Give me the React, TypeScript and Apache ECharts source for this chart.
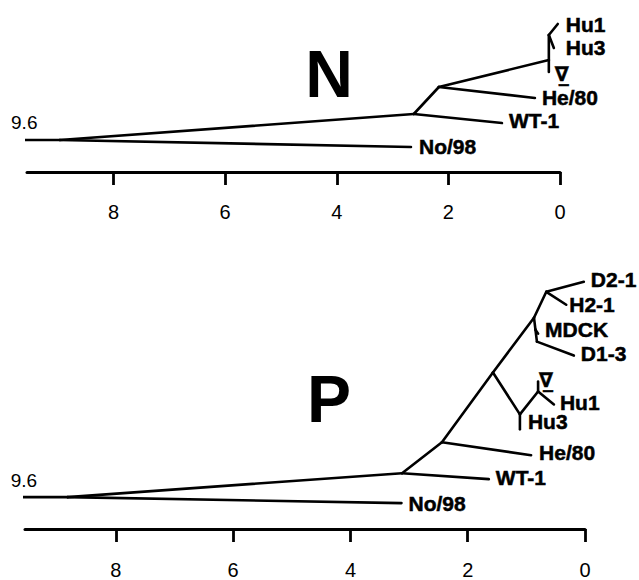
import React, { useEffect, useRef } from "react";
import * as echarts from "echarts";

// ---------- Panel N (tree 1) ----------
const nNodeNames = ["root0", "root", "A", "No/98", "WT-1", "B", "He/80", "C", "D", "Hu1", "Hu3", "V"];
const nDistance = [9.8, 8.96, 2.62, 2.67, 1.04, 2.17, 0.45, 0.2, 0.2, 0.04, 0.11, 0.2];
const nHeight = [32, 32, 58, 25, 49, 85, 74, 112, 137, 148, 124, 100];
const nEdges = [
  ["root0", "root"], ["root", "A"], ["root", "No/98"], ["A", "WT-1"], ["A", "B"],
  ["B", "He/80"], ["B", "C"], ["C", "D"], ["D", "Hu1"], ["D", "Hu3"], ["C", "V"],
];
const nLabels = [
  ["root0", "9.6"], ["Hu1", "Hu1"], ["Hu3", "Hu3"], ["V", "∇"],
  ["He/80", "He/80"], ["WT-1", "WT-1"], ["No/98", "No/98"],
];

// ---------- Panel P (tree 2) ----------
const pNodeNames = [
  "root0", "root", "A", "No/98", "WT-1", "B", "He/80", "C", "F", "Hu3", "G", "V", "Hu1",
  "D", "M", "MDCK", "H", "D1-3", "E", "D2-1", "H2-1",
];
const pDistance = [
  9.76, 8.82, 3.12, 3.13, 1.64, 2.44, 0.92, 1.57, 1.11, 1.11, 0.8, 0.8, 0.53,
  0.87, 0.845, 0.8, 0.82, 0.19, 0.66, 0.02, 0.32,
];
const pHeight = [
  32, 32, 56, 26, 50, 87, 74, 157, 115, 100, 138, 148, 125,
  212, 200, 196, 188, 174, 238, 248, 225,
];
const pEdges = [
  ["root0", "root"], ["root", "A"], ["root", "No/98"], ["A", "WT-1"], ["A", "B"],
  ["B", "He/80"], ["B", "C"], ["C", "F"], ["F", "Hu3"], ["F", "G"], ["G", "V"], ["G", "Hu1"],
  ["C", "D"], ["D", "M"], ["M", "MDCK"], ["M", "H"], ["H", "D1-3"], ["D", "E"],
  ["E", "D2-1"], ["E", "H2-1"],
];
const pLabels = [
  ["root0", "9.6"], ["D2-1", "D2-1"], ["H2-1", "H2-1"], ["MDCK", "MDCK"], ["D1-3", "D1-3"],
  ["V", "∇"], ["Hu1", "Hu1"], ["Hu3", "Hu3"], ["He/80", "He/80"], ["WT-1", "WT-1"], ["No/98", "No/98"],
];

const axisTicks = [0, 2, 4, 6, 8];
const panelTitles = ["N", "P"];

// ---------- styles (label offsets in px) ----------
const nOffsets: Record<string, number[]> = {
  "9.6": [-2, -18], Hu1: [8, 0], Hu3: [12, -1], "∇": [6, 2], "He/80": [7, -1], "WT-1": [7, -3], "No/98": [8, -1],
};
const pOffsets: Record<string, number[]> = {
  "9.6": [-2, -17], "D2-1": [7, -2], "H2-1": [3, 0], MDCK: [7, -4], "D1-3": [7, -2], "∇": [1, -1],
  Hu1: [6, -2], Hu3: [8, -8], "He/80": [8, -3], "WT-1": [7, -2], "No/98": [7, 0],
};

function buildPanel(
  names: string[], dist: number[], height: number[], edges: string[][],
  labels: string[][], offsets: Record<string, number[]>, gi: number
) {
  const pt = (n: string) => [dist[names.indexOf(n)], height[names.indexOf(n)]];
  const series: any[] = edges.map(([a, b]) => ({
    type: "line",
    xAxisIndex: gi,
    yAxisIndex: gi,
    data: [pt(a), pt(b)],
    symbol: "none",
    clip: false,
    silent: true,
    lineStyle: { color: "#000", width: 2.6, cap: "round", join: "round" },
  }));
  series.push({
    type: "scatter",
    xAxisIndex: gi,
    yAxisIndex: gi,
    symbolSize: 0.01,
    clip: false,
    silent: true,
    itemStyle: { color: "#000", opacity: 1 },
    data: labels.map(([node, text]) => {
      const isRoot = text === "9.6";
      const isV = text === "∇";
      return {
        value: pt(node),
        label: {
          show: true,
          position: "right",
          distance: 0,
          offset: offsets[text],
          formatter: isV ? "{v|∇\u0332}" : text,
          color: "#000",
          opacity: 1,
          fontFamily: "Liberation Sans",
          fontWeight: isRoot ? "normal" : "bold",
          fontSize: isRoot ? 19 : 21,
          textBorderColor: "#000",
          textBorderWidth: isRoot ? 0 : 0.5,
          rich: {
            v: {
              fontFamily: "DejaVu Sans",
              fontWeight: "bold",
              fontSize: 20,
              color: "#000",
              textBorderColor: "#000",
              textBorderWidth: 0.5,
            },
          },
        },
      };
    }),
  });
  return series;
}

function makeXAxis(gi: number) {
  return {
    type: "value",
    gridIndex: gi,
    min: 0,
    max: 9.55,
    inverse: true,
    axisLine: { show: true, onZero: false, lineStyle: { color: "#000", width: 3 } },
    axisTick: { show: true, customValues: axisTicks, length: 13, lineStyle: { color: "#000", width: 2.8 } },
    axisLabel: {
      customValues: axisTicks,
      margin: gi === 0 ? 30 : 31,
      color: "#000",
      fontFamily: "Liberation Sans",
      fontSize: 20,
    },
    splitLine: { show: false },
  };
}

export default function App() {
  const ref = useRef<HTMLDivElement>(null);
  useEffect(() => {
    if (!ref.current) return;
    const chart = echarts.init(ref.current, null, { renderer: "svg" });
    chart.setOption({
      animation: false,
      backgroundColor: "#fff",
      grid: [
        { left: 27, right: 79, top: 0, height: 172 },
        { left: 25, right: 54, top: 230, height: 300 },
      ],
      xAxis: [makeXAxis(0), makeXAxis(1)],
      yAxis: [
        { type: "value", gridIndex: 0, min: 0, max: 172, show: false, splitLine: { show: false } },
        { type: "value", gridIndex: 1, min: 0, max: 300, show: false, splitLine: { show: false } },
      ],
      graphic: [
        {
          type: "text",
          x: 329,
          y: 74,
          style: { text: panelTitles[0], font: 'bold 66px "Liberation Sans"', fill: "#000", align: "center", verticalAlign: "middle" },
        },
        {
          type: "text",
          x: 329,
          y: 399,
          style: { text: panelTitles[1], font: 'bold 66px "Liberation Sans"', fill: "#000", align: "center", verticalAlign: "middle" },
        },
      ],
      series: [
        ...buildPanel(nNodeNames, nDistance, nHeight, nEdges, nLabels, nOffsets, 0),
        ...buildPanel(pNodeNames, pDistance, pHeight, pEdges, pLabels, pOffsets, 1),
      ],
    });
    return () => chart.dispose();
  }, []);
  return (
    <div
      ref={ref}
      style={{ position: "fixed", left: 0, top: 0, width: 639, height: 580, background: "#fff" }}
    />
  );
}
